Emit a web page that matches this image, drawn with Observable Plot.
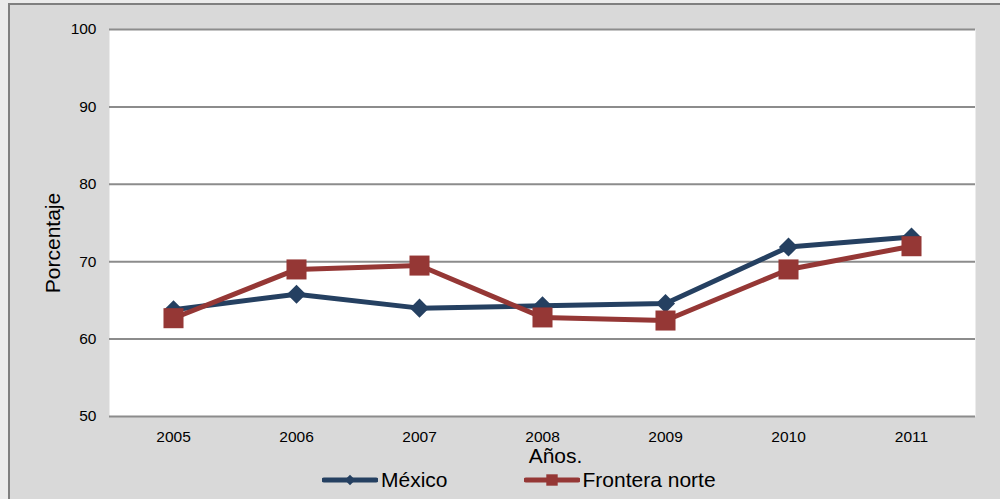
<!DOCTYPE html>
<html>
<head>
<meta charset="utf-8">
<script src="https://cdn.jsdelivr.net/npm/d3@7"></script>
<script src="https://cdn.jsdelivr.net/npm/@observablehq/plot@0.6"></script>
<style>
  html, body { margin: 0; padding: 0; background: #ebebeb; overflow: hidden; }
  #panel {
    position: absolute; left: 8px; top: 3px; width: 1000px; height: 510px;
    border-left: 2px solid #7f7f7f; border-top: 2px solid #7f7f7f;
    background: #d9d9d9;
  }
  #chart { position: absolute; left: 0; top: 0; }
  #chart svg { display: block; }
  #legend {
    position: absolute; left: 322px; top: 468px;
    display: flex; align-items: center;
    font-family: Arial, "Liberation Sans", sans-serif; font-size: 21px; line-height: 24px;
    color: #000;
  }
  .item { display: flex; align-items: center; }
  .item svg { display: block; margin-right: 3px; }
  .gap { width: 76px; }
</style>
</head>
<body>
<div id="panel"></div>
<div id="chart"></div>
<div id="legend"></div>
<script>
// Porcentaje por año, México y frontera norte
const years = ["2005", "2006", "2007", "2008", "2009", "2010", "2011"];
const mexico = [63.8, 65.8, 64.0, 64.3, 64.6, 71.9, 73.2];
const fronteraNorte = [62.7, 69.0, 69.5, 62.8, 62.4, 69.0, 72.0];
const yTicks = [50, 60, 70, 80, 90, 100];
const seriesNames = ["México", "Frontera norte"];
const seriesColors = ["#254061", "#953735"];

const mexicoRows = years.map((year, i) => ({year, value: mexico[i]}));
const fronteraRows = years.map((year, i) => ({year, value: fronteraNorte[i]}));

const font = 'Arial, "Liberation Sans", sans-serif';

const chart = Plot.plot({
  width: 1000,
  height: 499,
  marginLeft: 109,
  marginRight: 25,
  marginTop: 29,
  marginBottom: 83,
  style: {background: "transparent", fontFamily: font, fontSize: "15.5px", color: "#000"},
  x: {type: "point", domain: years, padding: 0.5},
  y: {domain: [50, 100]},
  marks: [
    Plot.frame({fill: "white", stroke: null}),
    Plot.gridY(yTicks, {stroke: "#8c8c8c", strokeOpacity: 1, strokeWidth: 2}),
    Plot.axisY(yTicks, {tickSize: 0, tickPadding: 13, label: null, fontSize: 15.5}),
    Plot.axisX({tickSize: 0, tickPadding: 14.5, label: null, fontSize: 15.5}),
    Plot.text(["Porcentaje"], {frameAnchor: "left", textAnchor: "middle", rotate: -90, dx: -56, dy: 20, fontSize: 21, fill: "#000"}),
    Plot.text(["Años."], {frameAnchor: "bottom", dx: 13, dy: 46, fontSize: 21, fill: "#000"}),
    Plot.line(mexicoRows, {x: "year", y: "value", stroke: seriesColors[0], strokeWidth: 5}),
    Plot.dot(mexicoRows, {x: "year", y: "value", symbol: "diamond2", r: 8.6, fill: seriesColors[0], stroke: null}),
    Plot.line(fronteraRows, {x: "year", y: "value", stroke: seriesColors[1], strokeWidth: 5}),
    Plot.dot(fronteraRows, {x: "year", y: "value", symbol: "square", r: 11.3, fill: seriesColors[1], stroke: null})
  ]
});
document.getElementById("chart").append(chart);

// Leyenda
const legend = d3.select("#legend");
const swatchW = 56, swatchH = 24;
seriesNames.forEach((name, i) => {
  if (i > 0) legend.append("div").attr("class", "gap");
  const item = legend.append("div").attr("class", "item");
  const svg = item.append("svg").attr("width", swatchW).attr("height", swatchH);
  svg.append("line")
    .attr("x1", 2).attr("x2", swatchW - 2)
    .attr("y1", swatchH / 2).attr("y2", swatchH / 2)
    .attr("stroke", seriesColors[i]).attr("stroke-width", 5).attr("stroke-linecap", "round");
  const sym = i === 0 ? d3.symbolDiamond2 : d3.symbolSquare;
  const size = i === 0 ? 70 : 130;
  svg.append("path")
    .attr("d", d3.symbol(sym, size)())
    .attr("transform", `translate(${swatchW / 2},${swatchH / 2})`)
    .attr("fill", seriesColors[i]);
  item.append("span").text(name);
});
</script>
</body>
</html>
